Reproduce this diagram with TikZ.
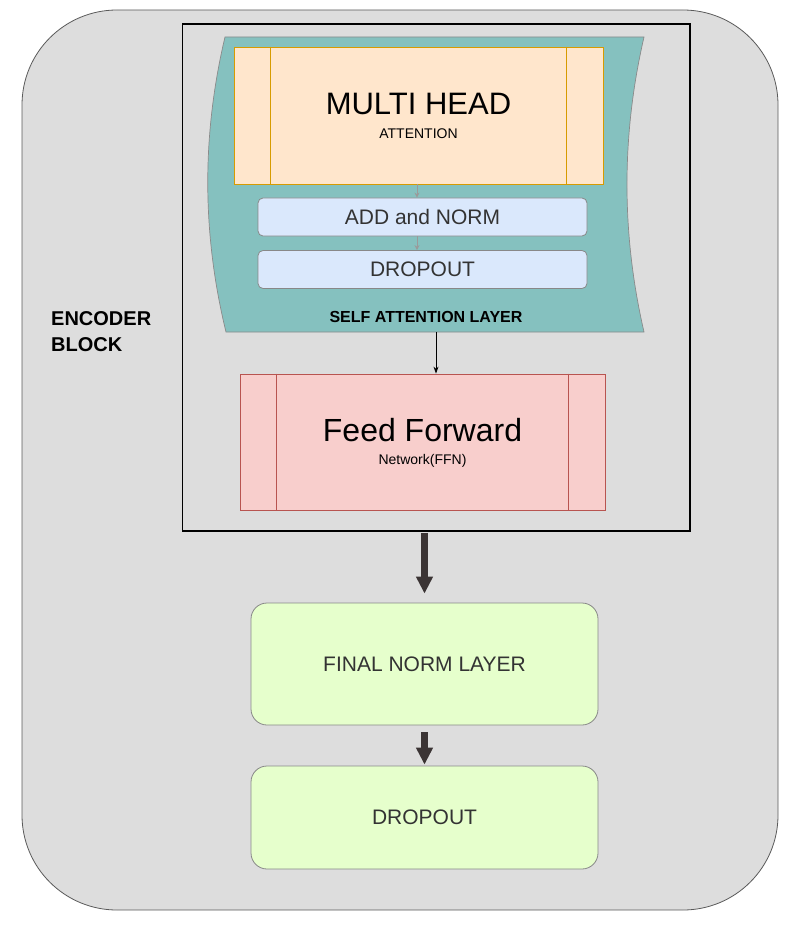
\documentclass[tikz,border=0pt]{standalone}
\usepackage{fontspec}
\setmainfont{Liberation Sans}
\usetikzlibrary{arrows.meta}
\definecolor{encfill}{HTML}{DDDDDD}
\definecolor{encline}{HTML}{5A5A5A}
\definecolor{salfill}{HTML}{85C1BF}
\definecolor{salline}{HTML}{8A8A8A}
\definecolor{mhafill}{HTML}{FFE6CC}
\definecolor{mhaline}{HTML}{D79B00}
\definecolor{normfill}{HTML}{DAE8FC}
\definecolor{normline}{HTML}{888888}
\definecolor{ffnfill}{HTML}{F8CECC}
\definecolor{ffnline}{HTML}{B85450}
\definecolor{finfill}{HTML}{E6FFCC}
\definecolor{txtgray}{HTML}{333333}
\definecolor{lightarr}{HTML}{9A9A9A}
\definecolor{darkarr}{HTML}{3B3434}
\tikzset{
  encbox/.style={draw=encline, fill=encfill, line width=0.8pt, rounded corners=95pt,
    minimum width=756pt, minimum height=900pt},
  enclab/.style={align=left, inner sep=0pt, anchor=west,
    font=\bfseries\fontsize{20}{26}\selectfont},
  frame/.style={draw=black, line width=1.8pt, minimum width=507.5pt, minimum height=507pt},
  procbox/.style={draw, line width=0.8pt, inner sep=0pt},
  normbox/.style={draw=normline, fill=normfill, line width=0.8pt, rounded corners=5pt,
    minimum width=329pt, minimum height=38pt, inner sep=0pt, text=txtgray,
    font=\fontsize{21}{21}\selectfont},
  finbox/.style={draw=normline, fill=finfill, line width=0.8pt, rounded corners=16pt,
    minimum width=347pt, minimum height=122pt, inner sep=0pt, text=txtgray,
    font=\fontsize{21}{21}\selectfont},
  bigtxt/.style={anchor=base, inner sep=0pt, font=\fontsize{32}{32}\selectfont},
  smalltxt/.style={anchor=base, inner sep=0pt, font=\fontsize{14}{14}\selectfont},
  grayarr/.style={-{Stealth[length=5pt,width=5pt]}, draw=lightarr, line width=0.8pt},
  thinarr/.style={-{Stealth[length=7pt,width=5pt]}, draw=black, line width=0.8pt},
  bigarr/.style={-{Triangle[length=17pt,width=16pt]}, draw=darkarr, line width=7pt}
}
\begin{document}
\begin{tikzpicture}[x=1pt,y=-1pt]
  \useasboundingbox (0,0) rectangle (809,925);

  % outer block
  \node[encbox] (enc) at (400,460) {};
  \node[enclab] (enctxt) at (51,331.5) {ENCODER\\BLOCK};

  % frame round attention and ffn
  \node[frame] (blk) at (436.3,277.5) {};

  % self attention layer
  \filldraw[fill=salfill, draw=salline, line width=0.7pt]
    (225,37) -- (644,37) .. controls (621.3,135.3) and (621.3,233.7) .. (644,332)
    -- (226,332) .. controls (202,233.7) and (201.7,135.3) .. (225,37) -- cycle;
  \node[anchor=base, inner sep=0pt, font=\bfseries\fontsize{16}{16}\selectfont] (saltxt)
    at (426,322) {SELF ATTENTION LAYER};
  \coordinate (salbot) at (436,332);

  \node[procbox, draw=mhaline, fill=mhafill, minimum width=369pt, minimum height=137pt]
    (mha) at (418.5,115.5) {};
  \draw[mhaline, line width=0.8pt] ([xshift=37pt]mha.north west) -- ([xshift=37pt]mha.south west);
  \draw[mhaline, line width=0.8pt] ([xshift=-37pt]mha.north east) -- ([xshift=-37pt]mha.south east);
  \node[bigtxt, font=\fontsize{31}{31}\selectfont] (mhatitle) at ([yshift=0.5pt]mha.center) {MULTI HEAD};
  \node[smalltxt] (mhasub) at ([yshift=-23pt]mha.center) {ATTENTION};

  \node[normbox] (addn) at (422.5,217) {ADD and NORM};
  \node[normbox] (drop1) at (422.5,269.5) {DROPOUT};
  \draw[grayarr] ([xshift=-1.5pt]mha.south) -- ([xshift=-1.5pt]mha.south |- addn.north);
  \draw[grayarr] ([xshift=-1.5pt]mha.south |- addn.south) -- ([xshift=-1.5pt]mha.south |- drop1.north);

  % feed forward
  \node[procbox, draw=ffnline, fill=ffnfill, minimum width=365pt, minimum height=136pt]
    (ffn) at (422.5,442) {};
  \draw[ffnline, line width=0.8pt] ([xshift=37pt]ffn.north west) -- ([xshift=37pt]ffn.south west);
  \draw[ffnline, line width=0.8pt] ([xshift=-37pt]ffn.north east) -- ([xshift=-37pt]ffn.south east);
  \node[bigtxt] (ffntitle) at ([yshift=1pt]ffn.center) {Feed Forward};
  \node[smalltxt] (ffnsub) at ([yshift=-22pt]ffn.center) {Network(FFN)};
  \draw[thinarr] (salbot) -- (salbot |- ffn.north);

  % final layers
  \node[finbox] (fin) at (424.5,664) {FINAL NORM LAYER};
  \node[finbox, minimum height=103pt] (drop2) at (424.5,817.5) {DROPOUT};
  \draw[bigarr, shorten <=1pt, shorten >=9pt] (blk.south -| fin.north) -- (fin.north);
  \draw[bigarr, shorten <=7pt, shorten >=1pt] (fin.south) -- (drop2.north);
\end{tikzpicture}
\end{document}
